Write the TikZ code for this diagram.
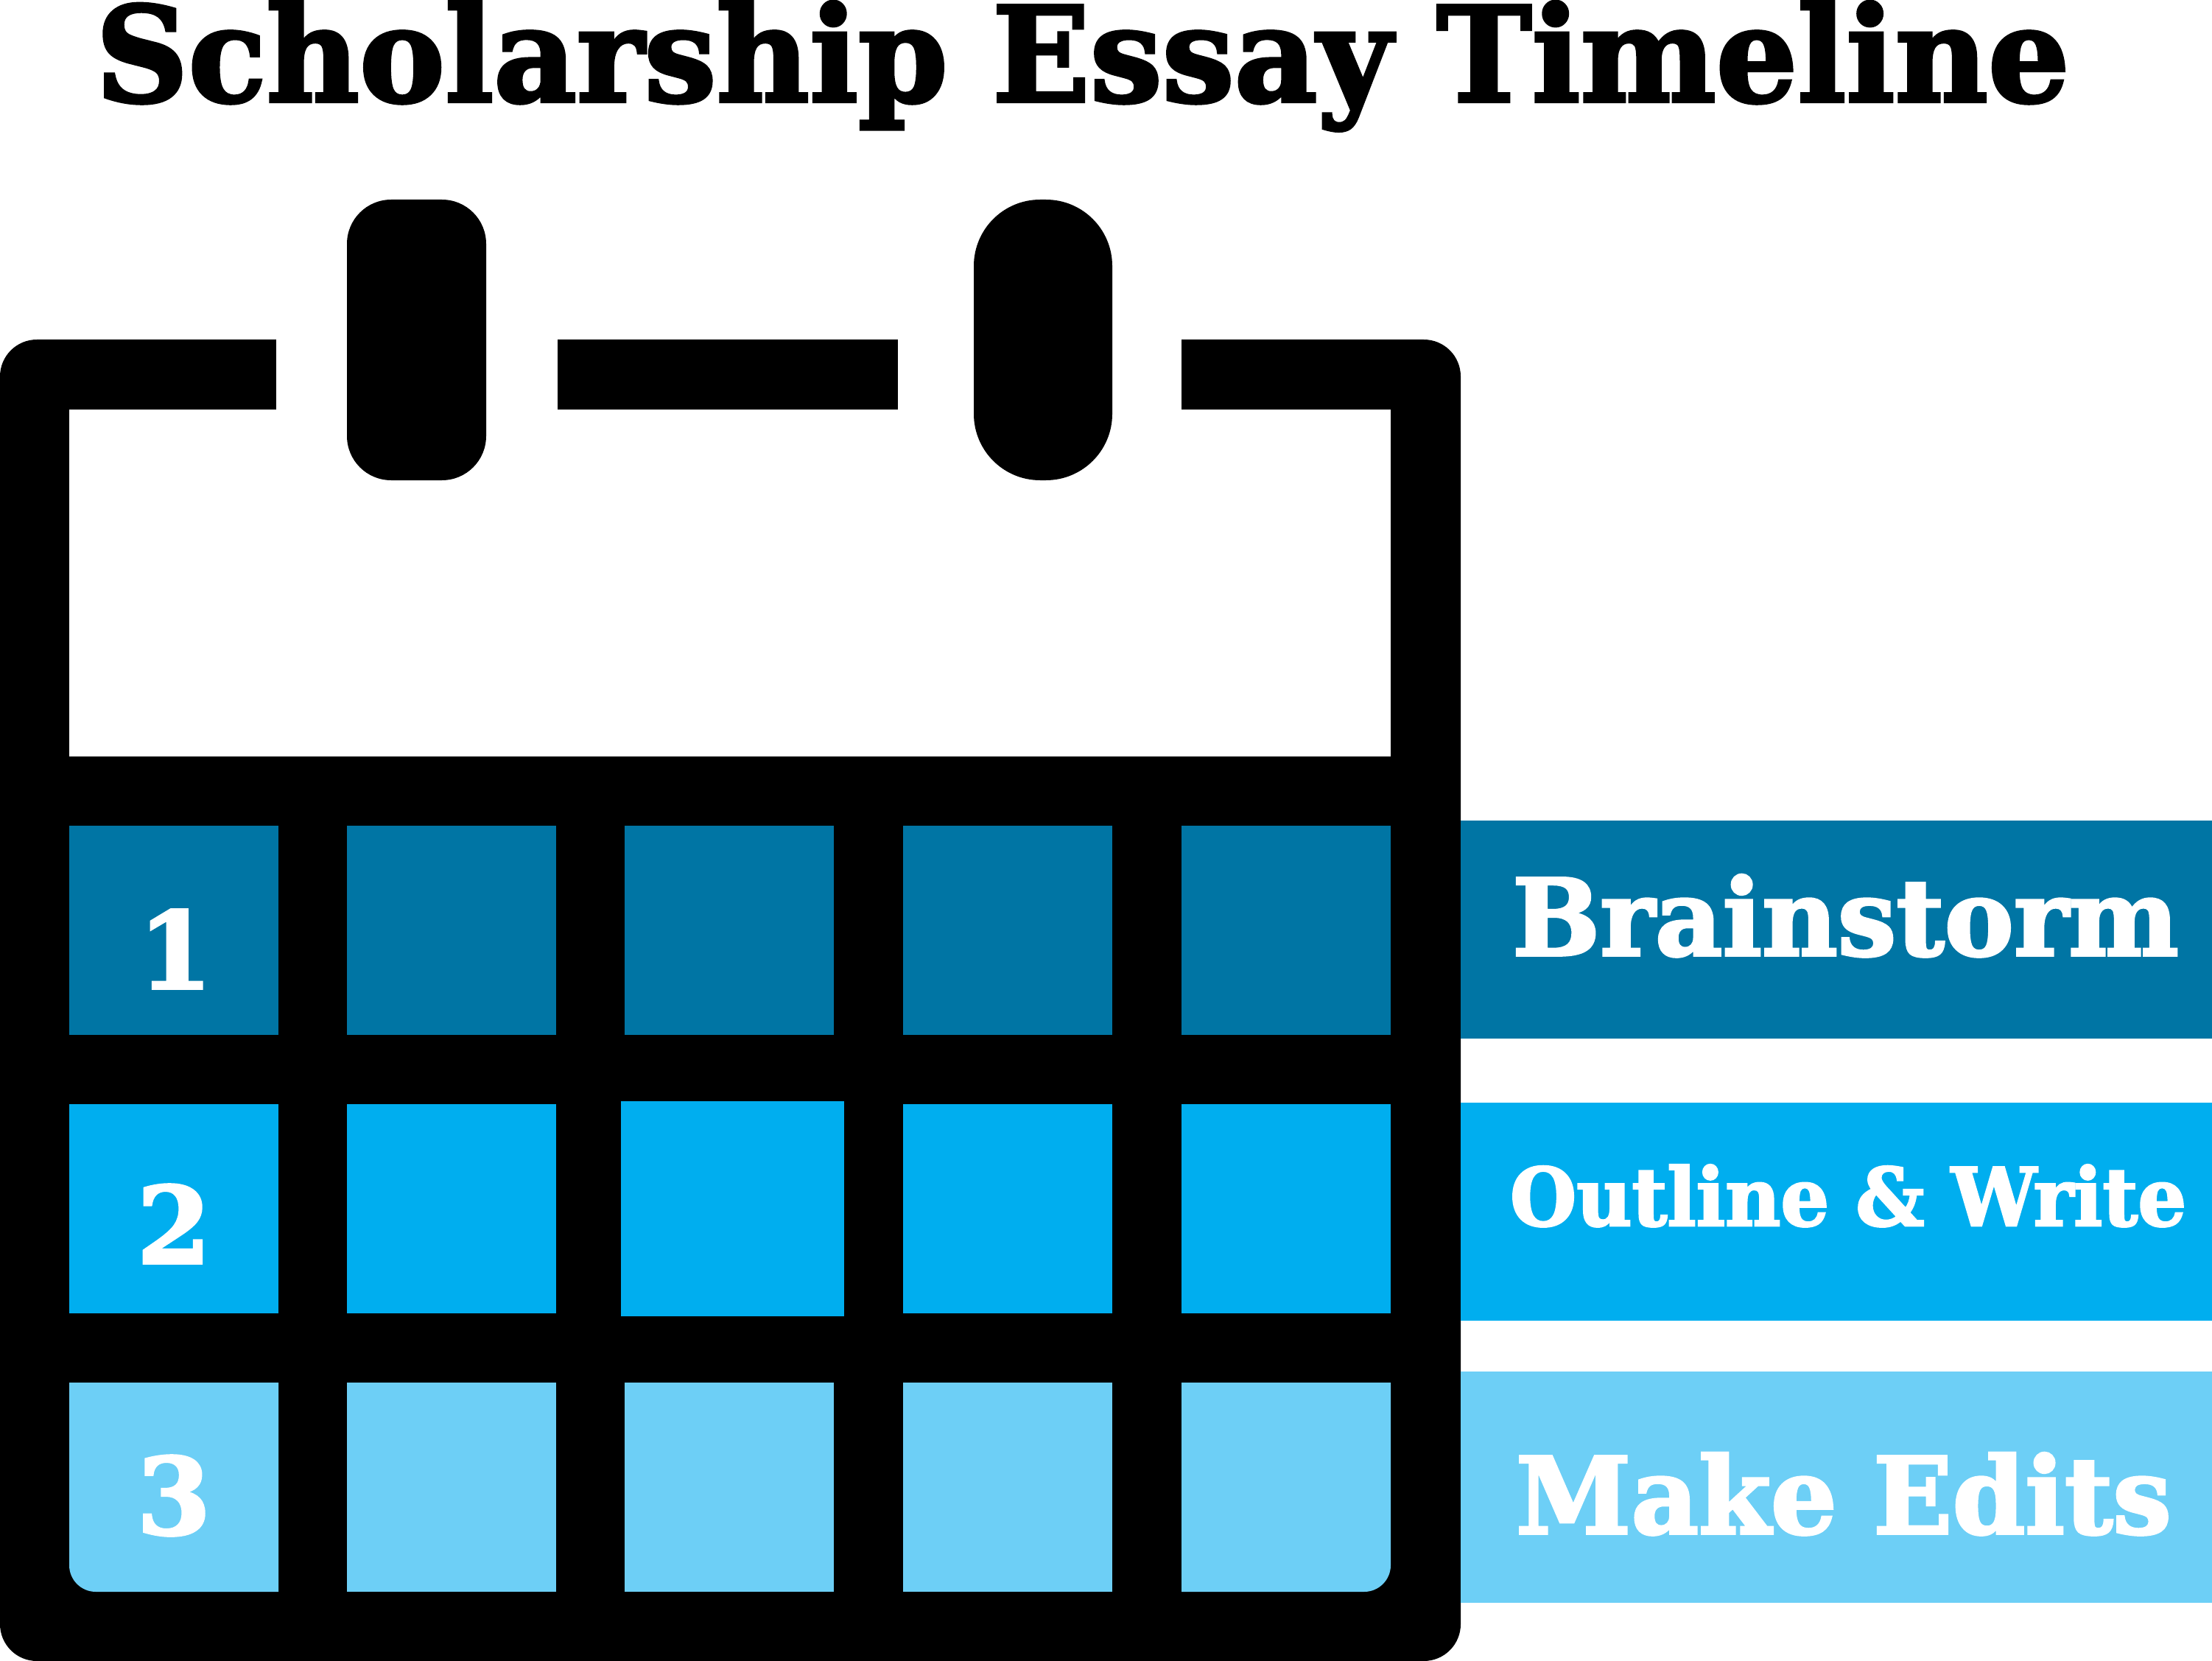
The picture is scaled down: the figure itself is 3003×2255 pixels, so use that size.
\documentclass[tikz,border=0pt]{standalone}
\usepackage{fontspec}
\setmainfont{DejaVu Serif}[BoldFeatures={FakeBold=2.5}]
\usepackage{color}
\definecolor{DarkBlue}{RGB}{0, 117, 164}
\definecolor{MidBlue}{RGB}{0, 174, 239}
\definecolor{PaleBlue}{RGB}{109, 207, 246}

\begin{document}
\begin{tikzpicture}
  [x=.01cm,y=-.01cm,every node/.style={inner sep=0pt,outer sep=0pt},
   cell/.style={rectangle,minimum width=2.84cm,minimum height=2.84cm},
   bar/.style={rectangle,minimum width=10.2cm},
   slab/.style={anchor=base west,text=white,font=\bfseries},
   digit/.style={anchor=base,text=white,font=\bfseries\fontsize{41}{41}\selectfont}]
  \useasboundingbox (0,0) rectangle (3003,2255);

  \node (title) [anchor=base west,font=\bfseries\fontsize{51}{51}\selectfont] at (130,138) {\scalebox{.97}[1]{Scholarship Essay Timeline}};

  % calendar body
  \fill[black,rounded corners=.5cm] (0,461) rectangle (1983,2255);
  \fill[white] (94,556) rectangle (1888,1027);
  \fill[white] (375,440) rectangle (757,556);
  \fill[white] (1219,440) rectangle (1604,556);
  \fill[black,rounded corners=.6cm] (471,271) rectangle (660,652);
  \fill[black,rounded corners=.9cm] (1322,271) rectangle (1510,652);

  \node (c11) [cell,fill=DarkBlue] at (236,1263) {};
  \node (c12) [cell,fill=DarkBlue] at (613,1263) {};
  \node (c13) [cell,fill=DarkBlue] at (990,1263) {};
  \node (c14) [cell,fill=DarkBlue] at (1368,1263) {};
  \node (c15) [cell,fill=DarkBlue] at (1746,1263) {};

  \node (c21) [cell,fill=MidBlue] at (236,1641) {};
  \node (c22) [cell,fill=MidBlue] at (613,1641) {};
  \node (c23) [cell,fill=MidBlue,minimum width=3.03cm,minimum height=2.92cm] at (994.5,1641) {};
  \node (c24) [cell,fill=MidBlue] at (1368,1641) {};
  \node (c25) [cell,fill=MidBlue] at (1746,1641) {};

  \fill[PaleBlue] (94,1877) -- (378,1877) -- (378,2161) [rounded corners=.36cm] -- (94,2161) [sharp corners] -- cycle;
  \node (c32) [cell,fill=PaleBlue] at (613,2019) {};
  \node (c33) [cell,fill=PaleBlue] at (990,2019) {};
  \node (c34) [cell,fill=PaleBlue] at (1368,2019) {};
  \fill[PaleBlue] (1604,1877) -- (1888,1877) [rounded corners=.36cm] -- (1888,2161) [sharp corners] -- (1604,2161) -- cycle;

  \node (n1) [digit] at (238,1342) {1};
  \node (n2) [digit] at (236,1715) {2};
  \node (n3) [digit] at (236,2083) {3};

  % legend
  \node (b1) [bar,fill=DarkBlue,minimum height=2.96cm] at (2493,1262) {};
  \node (b2) [bar,fill=MidBlue,minimum height=2.96cm] at (2493,1645) {};
  \node (b3) [bar,fill=PaleBlue,minimum height=3.14cm] at (2493,2019) {};

  \node (l1) [slab] at (2053,1297) {\fontsize{41}{41}\selectfont\scalebox{.98}[1]{Brainstorm}};
  \node (l2) [slab] at (2050,1664) {\fontsize{31}{31}\selectfont\scalebox{.95}[1]{Outline \& Write}};
  \node (l3) [slab] at (2058,2082) {\fontsize{41}{41}\selectfont\scalebox{.98}[1]{Make Edits}};
\end{tikzpicture}
\end{document}
